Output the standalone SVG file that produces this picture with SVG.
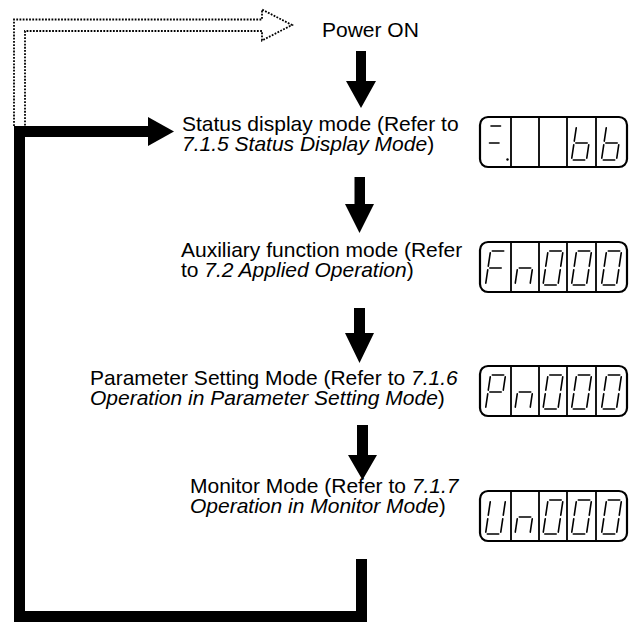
<svg xmlns="http://www.w3.org/2000/svg" width="629" height="622" viewBox="0 0 629 622">
<style>
.t{font-family:"Liberation Sans",Arial,sans-serif;font-size:21px;fill:#000}
.i{font-style:italic}
.bez{fill:none;stroke:#000;stroke-width:2.2}
.div{stroke:#000;stroke-width:1.8}
.seg{stroke:#000;stroke-width:1.6;stroke-linecap:round;fill:none}
.arr{fill:#000}
.dot{fill:none;stroke:#000;stroke-width:1.8;stroke-dasharray:1.8 1.4}
.loop{fill:none;stroke:#000;stroke-width:11;stroke-linejoin:miter}
</style>
<defs>
<line id="sa" class="seg" x1="11.8" y1="9" x2="23.2" y2="9"/>
<line id="sb" class="seg" x1="24.74" y1="10.8" x2="22.77" y2="24.2"/>
<line id="sc" class="seg" x1="22.24" y1="27.8" x2="20.27" y2="41.2"/>
<line id="sd" class="seg" x1="6.8" y1="43" x2="18.2" y2="43"/>
<line id="se" class="seg" x1="7.24" y1="27.8" x2="5.27" y2="41.2"/>
<line id="sf" class="seg" x1="9.74" y1="10.8" x2="7.77" y2="24.2"/>
<line id="sg" class="seg" x1="9.3" y1="26" x2="20.7" y2="26"/>
<g id="d0"><use href="#sa"/><use href="#sb"/><use href="#sc"/><use href="#sd"/><use href="#se"/><use href="#sf"/></g>
<g id="dn"><use href="#sc"/><use href="#se"/><use href="#sg"/></g>
<g id="dF"><use href="#sa"/><use href="#sf"/><use href="#se"/><use href="#sg"/></g>
<g id="dP"><use href="#sa"/><use href="#sb"/><use href="#sf"/><use href="#se"/><use href="#sg"/></g>
<g id="dU"><use href="#sb"/><use href="#sc"/><use href="#sd"/><use href="#se"/><use href="#sf"/></g>
<g id="db"><use href="#sc"/><use href="#sd"/><use href="#se"/><use href="#sf"/><use href="#sg"/></g>
<g id="frame">
<rect class="bez" x="480" y="0" width="147" height="50" rx="8"/>
<line class="div" x1="511" y1="1" x2="511" y2="49"/>
<line class="div" x1="539" y1="1" x2="539" y2="49"/>
<line class="div" x1="567" y1="1" x2="567" y2="49"/>
<line class="div" x1="596" y1="1" x2="596" y2="49"/>
</g>
</defs>

<g id="connectors">
<path class="dot" d="M14,126 V19.5 H262 V9.5 L292,25 L262,40.5 V31 H25 V126"/>
<polygon class="arr" points="356,51 366,51 366,81 376,81 361,108 346,81 356,81"/>
<polygon class="arr" points="354.5,177 365,177 365,204 374,204 359.5,233 345,204 354.5,204"/>
<polygon class="arr" points="354,308 365,308 365,333 374,333 359.5,363 345,333 354,333"/>
<polygon class="arr" points="357,425 368,425 368,455 377,455 362.5,480 348,455 357,455"/>
<polyline class="loop" points="361.5,559 361.5,616.5 19.5,616.5 19.5,131.5 150,131.5"/>
<polygon class="arr" points="148,117 174,131.5 148,146"/>
</g>

<g id="power-on">
<text class="t" x="322" y="37">Power ON</text>
</g>

<g id="status-mode">
<text class="t" x="182" y="131">Status display mode (Refer to</text>
<text class="t" x="182" y="151"><tspan class="i">7.1.5 Status Display Mode</tspan>)</text>
<g transform="translate(0,117)">
<use href="#frame"/>
<g transform="translate(480.5,0)"><line class="seg" x1="10.5" y1="9" x2="20" y2="9"/><line class="seg" x1="9" y1="26" x2="18.5" y2="26"/><circle cx="27" cy="42.5" r="1.2"/></g>
<use href="#db" transform="translate(566.5,0)"/>
<use href="#db" transform="translate(596.5,0)"/>
</g>
</g>

<g id="aux-mode">
<text class="t" x="181" y="257">Auxiliary function mode (Refer</text>
<text class="t" x="181" y="277">to <tspan class="i">7.2 Applied Operation</tspan>)</text>
<g transform="translate(0,242)">
<use href="#frame"/>
<use href="#dF" transform="translate(480.5,0)"/>
<use href="#dn" transform="translate(510,0)"/>
<use href="#d0" transform="translate(538,0)"/>
<use href="#d0" transform="translate(566.5,0)"/>
<use href="#d0" transform="translate(596.5,0)"/>
</g>
</g>

<g id="param-mode">
<text class="t" x="90" y="385">Parameter Setting Mode (Refer to <tspan class="i">7.1.6</tspan></text>
<text class="t i" x="90" y="405">Operation in Parameter Setting Mode<tspan font-style="normal">)</tspan></text>
<g transform="translate(0,366)">
<use href="#frame"/>
<use href="#dP" transform="translate(480.5,0)"/>
<use href="#dn" transform="translate(510,0)"/>
<use href="#d0" transform="translate(538,0)"/>
<use href="#d0" transform="translate(566.5,0)"/>
<use href="#d0" transform="translate(596.5,0)"/>
</g>
</g>

<g id="monitor-mode">
<text class="t" x="190" y="493">Monitor Mode (Refer to <tspan class="i">7.1.7</tspan></text>
<text class="t i" x="190" y="513">Operation in Monitor Mode<tspan font-style="normal">)</tspan></text>
<g transform="translate(0,491)">
<use href="#frame"/>
<use href="#dU" transform="translate(480.5,0)"/>
<use href="#dn" transform="translate(510,0)"/>
<use href="#d0" transform="translate(538,0)"/>
<use href="#d0" transform="translate(566.5,0)"/>
<use href="#d0" transform="translate(596.5,0)"/>
</g>
</g>
</svg>
